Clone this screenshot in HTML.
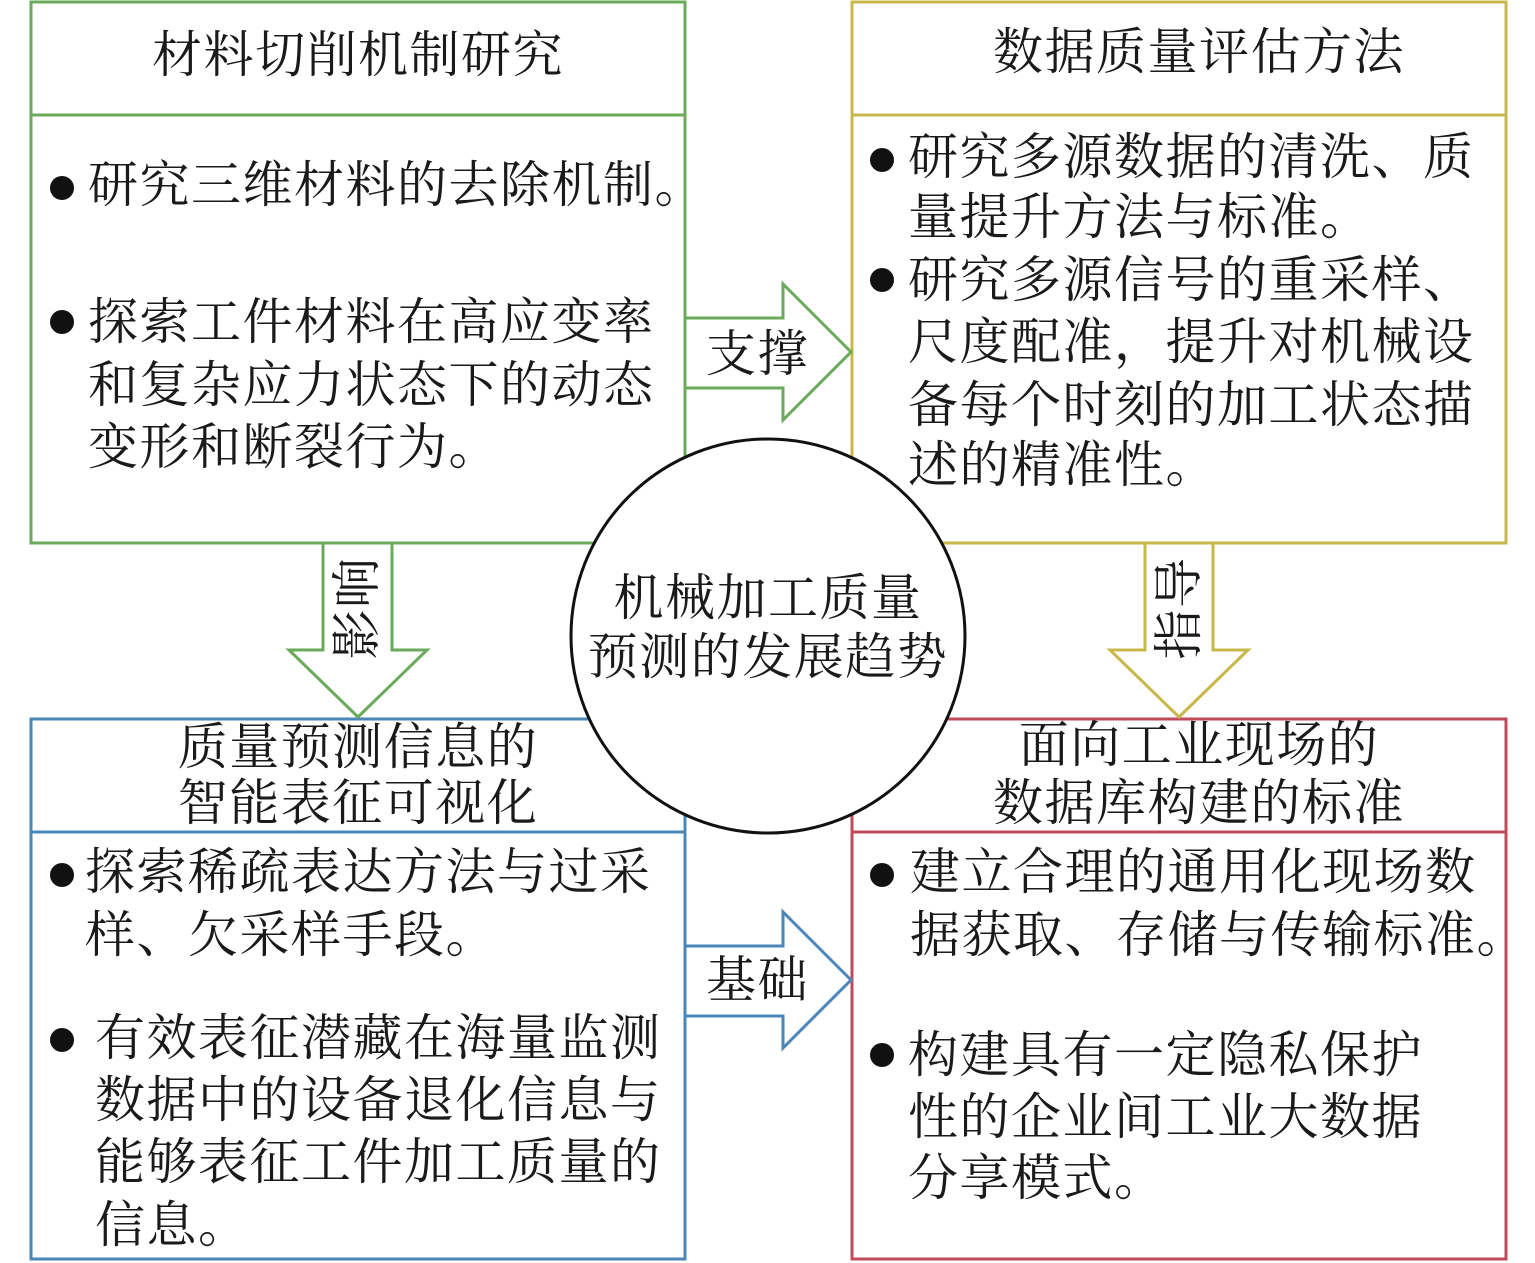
<!DOCTYPE html>
<html><head><meta charset="utf-8"><style>
html,body{margin:0;padding:0;background:#fff;}
svg{display:block;}
text{font-family:"Liberation Serif","Noto Serif CJK SC",serif;font-size:50px;fill:#1a1a1a;dominant-baseline:central;letter-spacing:1.5px;}
</style></head><body>
<svg width="1535" height="1263" viewBox="0 0 1535 1263" xmlns="http://www.w3.org/2000/svg">
<g fill="none" stroke-width="3">
<rect x="31" y="2" width="654" height="541" stroke="#6aaa5a"/>
<line x1="31" y1="115" x2="685" y2="115" stroke="#6aaa5a"/>
<rect x="852" y="2" width="654" height="541" stroke="#c8b84a"/>
<line x1="852" y1="115" x2="1506" y2="115" stroke="#c8b84a"/>
<rect x="31" y="719" width="654" height="540" stroke="#4a86b8"/>
<line x1="31" y1="832" x2="685" y2="832" stroke="#4a86b8"/>
<rect x="852" y="719" width="654" height="540" stroke="#c04a5a"/>
<line x1="852" y1="832" x2="1506" y2="832" stroke="#c04a5a"/>
</g>
<polygon points="685,318 783,318 783,284 851,352 783,420 783,388 685,388" fill="#fff" stroke="#6aaa5a" stroke-width="3"/>
<polygon points="323,543 392,543 392,650 427,650 358,717 289,650 323,650" fill="#fff" stroke="#6aaa5a" stroke-width="3"/>
<polygon points="1145,543 1213,543 1213,650 1248,650 1179,717 1110,650 1145,650" fill="#fff" stroke="#c8b84a" stroke-width="3"/>
<polygon points="685,946 783,946 783,912 851,980 783,1048 783,1016 685,1016" fill="#fff" stroke="#4a86b8" stroke-width="3"/>
<text x="706" y="354">支撑</text>
<text x="706" y="980">基础</text>
<text transform="translate(357,608) rotate(-90)" text-anchor="middle">影响</text>
<text transform="translate(1179,608) rotate(-90)" text-anchor="middle">指导</text>
<circle cx="768" cy="636" r="197" fill="#fff" stroke="#111" stroke-width="3"/>
<text x="768" y="598" text-anchor="middle">机械加工质量</text>
<text x="768" y="657" text-anchor="middle">预测的发展趋势</text>
<text x="358" y="55" text-anchor="middle">材料切削机制研究</text>
<text x="1199" y="52" text-anchor="middle">数据质量评估方法</text>
<text x="358" y="747" text-anchor="middle">质量预测信息的</text>
<text x="358" y="803" text-anchor="middle">智能表征可视化</text>
<text x="1199" y="745" text-anchor="middle">面向工业现场的</text>
<text x="1199" y="803" text-anchor="middle">数据库构建的标准</text>
<g fill="#111">
<circle cx="62" cy="188" r="12"/><circle cx="62" cy="322" r="12"/>
<circle cx="882" cy="160" r="12"/><circle cx="882" cy="280" r="12"/>
<circle cx="62" cy="875" r="12"/><circle cx="62" cy="1040" r="12"/>
<circle cx="882" cy="875" r="12"/><circle cx="882" cy="1055" r="12"/>
</g>
<text x="88" y="185">研究三维材料的去除机制。</text>
<text x="88" y="322">探索工件材料在高应变率</text>
<text x="88" y="385">和复杂应力状态下的动态</text>
<text x="88" y="447">变形和断裂行为。</text>
<text x="908" y="157">研究多源数据的清洗、质</text>
<text x="908" y="217">量提升方法与标准。</text>
<text x="908" y="280">研究多源信号的重采样、</text>
<text x="908" y="342">尺度配准，提升对机械设</text>
<text x="908" y="405">备每个时刻的加工状态描</text>
<text x="908" y="465">述的精准性。</text>
<text x="85" y="872">探索稀疏表达方法与过采</text>
<text x="85" y="935">样、欠采样手段。</text>
<text x="95" y="1038">有效表征潜藏在海量监测</text>
<text x="95" y="1100">数据中的设备退化信息与</text>
<text x="95" y="1162">能够表征工件加工质量的</text>
<text x="95" y="1225">信息。</text>
<text x="910" y="872">建立合理的通用化现场数</text>
<text x="910" y="935">据获取、存储与传输标准。</text>
<text x="908" y="1055">构建具有一定隐私保护</text>
<text x="908" y="1117">性的企业间工业大数据</text>
<text x="908" y="1178">分享模式。</text>
</svg>
</body></html>
